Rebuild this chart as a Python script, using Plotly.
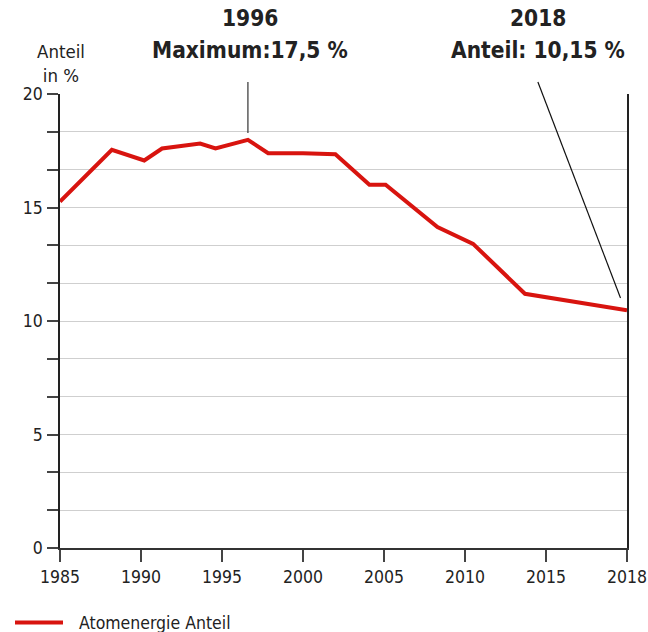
import numpy as np
import plotly.graph_objects as go

# --- data ---
tick_years = [1985, 1990, 1995, 2000, 2005, 2010, 2015, 2018]
years = [1985.0, 1988.2, 1990.2, 1991.3, 1993.65, 1994.6, 1996.6, 1997.85,
         2000.0, 2002.0, 2004.1, 2005.1, 2008.3, 2010.5, 2013.7, 2018.0]
share = [15.26, 17.54, 17.07, 17.6, 17.82, 17.6, 17.98, 17.39,
         17.39, 17.35, 16.0, 16.0, 14.14, 13.4, 11.2, 10.47]
series_name = "Atomenergie Anteil"
y_major = [0, 5, 10, 15, 20]
y_minor_step = 5 / 3

# axis positions: ticks are evenly spaced (last interval covers 3 years)
tick_pos = list(range(len(tick_years)))
def pos(y):
    return np.interp(y, tick_years, tick_pos)

xs = pos(np.array(years))

FONT = "DejaVu Sans Condensed"
RED = "#d8140f"
TXT = "#222"

fig = go.Figure()
fig.add_trace(go.Scatter(x=xs, y=share, mode="lines", name=series_name,
                         line=dict(color=RED, width=4), showlegend=False))

ytv = [round(i * y_minor_step, 6) for i in range(13)]
ytt = [str(int(round(v))) if any(abs(v - m) < 1e-6 for m in y_major) else "" for v in ytv]

L, R, T, B = 60, 21, 94, 84
W, H = 648, 632
pw, ph = W - L - R, H - T - B
def px_x(p):  # paper x from pixel
    return (p - L) / pw
def px_y(p):  # paper y from pixel
    return (H - B - p) / ph

fig.update_layout(
    width=W, height=H,
    margin=dict(l=L, r=R, t=T, b=B, autoexpand=False),
    paper_bgcolor="white", plot_bgcolor="white",
    font=dict(family=FONT, size=16, color=TXT),
    xaxis=dict(range=[0, 7], tickvals=tick_pos, ticktext=[str(t) for t in tick_years],
               showgrid=False, zeroline=False, showline=True, linecolor="#333", linewidth=2,
               ticks="outside", ticklen=12, tickwidth=1.5, tickcolor="#444", automargin=False,
               tickfont=dict(size=17.5, family=FONT, color=TXT)),
    yaxis=dict(range=[0, 20], tickvals=ytv, ticktext=ytt,
               showgrid=True, gridcolor="#cfcfcf", gridwidth=1.2, zeroline=False,
               showline=True, linecolor="#222", linewidth=1.5, mirror=True,
               ticks="outside", ticklen=11, tickwidth=1.5, tickcolor="#444", automargin=False,
               ticklabelstandoff=1,
               tickfont=dict(size=17.5, family=FONT, color=TXT)),
    showlegend=False,
)

# manual legend (line key + text)
fig.add_shape(type="line", xref="paper", yref="paper", x0=px_x(15), x1=px_x(63),
              y0=px_y(622.5), y1=px_y(622.5), line=dict(color=RED, width=4))
fig.add_annotation(x=px_x(77), y=px_y(622.5), xref="paper", yref="paper", text=series_name,
                   showarrow=False, xanchor="left", yanchor="middle",
                   font=dict(size=17.5, family=FONT, color=TXT))

# peak / last value annotations
i_max = int(np.argmax(share))
x_max = xs[i_max]
x_last = xs[-1]
x_lab2 = x_last - 1.1
fig.add_shape(type="line", xref="x", yref="paper", x0=x_max, x1=x_max, y0=px_y(82), y1=px_y(133),
              line=dict(color="#333", width=1.2))
fig.add_shape(type="line", xref="x", yref="paper", x0=x_lab2, x1=x_last - 0.08,
              y0=px_y(82), y1=px_y(298), line=dict(color="#111", width=1.2))

for xx, t1, t2 in [(x_max + 0.03, "1996", "Maximum:17,5 %"),
                   (x_lab2, "2018", "Anteil: 10,15 %")]:
    fig.add_annotation(x=xx, y=px_y(18), xref="x", yref="paper", text=f"<b>{t1}</b>",
                       showarrow=False, xanchor="center", yanchor="middle",
                       font=dict(size=22.5, family=FONT, color=TXT))
    fig.add_annotation(x=xx, y=px_y(50), xref="x", yref="paper", text=f"<b>{t2}</b>",
                       showarrow=False, xanchor="center", yanchor="middle",
                       font=dict(size=22.5, family=FONT, color=TXT))

fig.add_annotation(x=px_x(61), y=px_y(63), xref="paper", yref="paper", text="Anteil<br>in %",
                   showarrow=False, xanchor="center", yanchor="middle",
                   font=dict(size=18.5, family=FONT, color=TXT))

fig.write_html("out.html", config={"displayModeBar": False},
               post_script="document.body.style.margin='0';")
